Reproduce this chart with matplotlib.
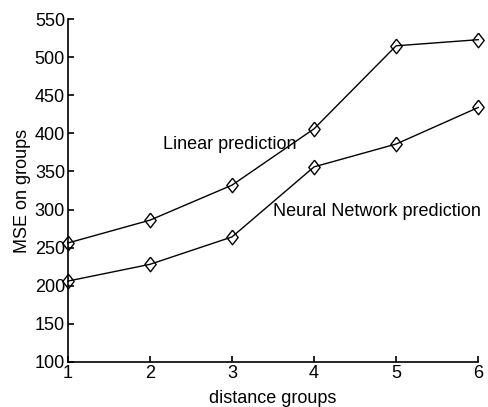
import matplotlib
matplotlib.use("Agg")
import matplotlib.pyplot as plt

plt.rcParams['font.family'] = ['Liberation Sans', 'DejaVu Sans']

groups = [1, 2, 3, 4, 5, 6]
linear_mse = [256, 286, 332, 406, 515, 523]
nn_mse = [206, 228, 264, 356, 386, 434]
xticks = [1, 2, 3, 4, 5, 6]
yticks = [100, 150, 200, 250, 300, 350, 400, 450, 500, 550]

fig = plt.figure(figsize=(4.88, 4.07), dpi=100)
ax = fig.add_axes([0.139, 0.111, 0.841, 0.842])

diamond = [(0, 1), (0.78, 0), (0, -1), (-0.78, 0), (0, 1)]
for ys in (linear_mse, nn_mse):
    ax.plot(groups, ys, color='black', linewidth=1.0, marker=diamond,
            markersize=10.5, markerfacecolor='none', markeredgecolor='black',
            markeredgewidth=1.0, clip_on=False)

ax.set_xlim(1, 6)
ax.set_ylim(100, 550)
ax.set_xticks(xticks)
ax.set_yticks(yticks)
ax.spines['top'].set_visible(False)
ax.spines['right'].set_visible(False)
for s in ('left', 'bottom'):
    ax.spines[s].set_linewidth(1.2)
ax.tick_params(direction='in', length=4, width=1.2, labelsize=13, pad=2)
ax.set_xlabel('distance groups', fontsize=13, labelpad=6)
ax.set_ylabel('MSE on groups', fontsize=13, labelpad=3)

ax.text(2.16, 385, 'Linear prediction', fontsize=13, va='center', ha='left')
ax.text(3.5, 297, 'Neural Network prediction', fontsize=13, va='center', ha='left')

fig.savefig('out.png', dpi=100)
